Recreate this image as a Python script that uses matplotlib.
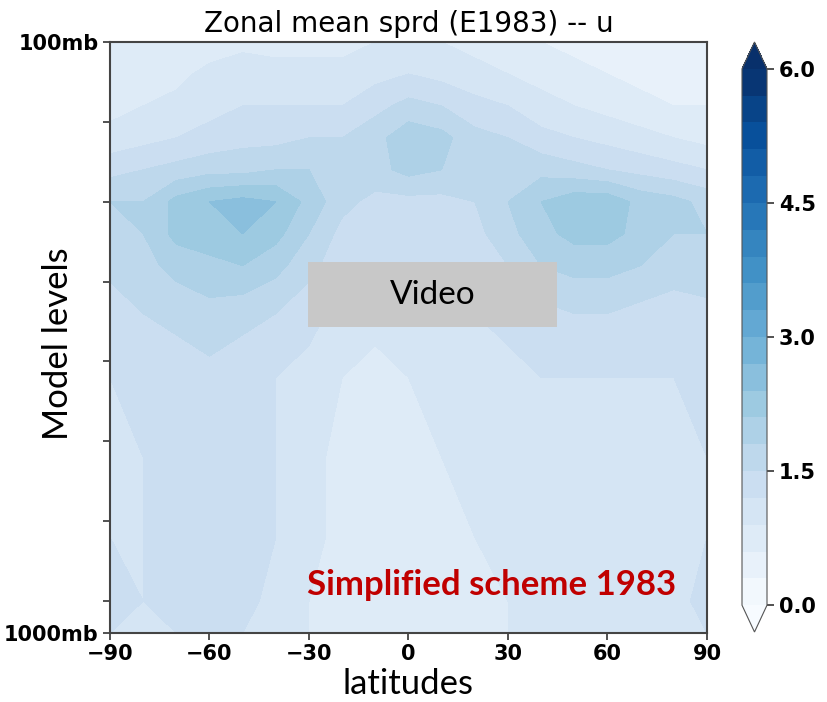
import numpy as np
import matplotlib
matplotlib.use("Agg")
import matplotlib.pyplot as plt
from matplotlib.patches import Rectangle

# latitudes and model level index (0 = 100mb at top, 74 = 1000mb at bottom)
lats = [-90, -80, -70, -60, -50, -40, -30, -20, -10, 0, 10, 20, 30, 40, 50, 60, 70, 80, 90]
levels = [0, 4, 8, 12, 16, 20, 24, 28, 34, 42, 52, 62, 70, 74]

# zonal mean spread of u (one row per level)
sprd_l00 = [0.6, 0.6, 0.6, 0.7, 0.8, 0.8, 0.8, 0.8, 0.9, 0.9, 0.9, 0.8, 0.7, 0.6, 0.5, 0.5, 0.4, 0.4, 0.4]
sprd_l04 = [0.7, 0.7, 0.8, 1.0, 1.1, 1.0, 1.0, 1.0, 1.1, 1.2, 1.1, 1.0, 0.9, 0.8, 0.7, 0.6, 0.5, 0.5, 0.5]
sprd_l08 = [0.8, 0.9, 1.0, 1.1, 1.2, 1.2, 1.2, 1.2, 1.4, 1.6, 1.5, 1.3, 1.2, 1.0, 0.9, 0.8, 0.7, 0.6, 0.6]
sprd_l12 = [1.0, 1.1, 1.2, 1.3, 1.4, 1.4, 1.5, 1.5, 1.7, 2.0, 1.9, 1.6, 1.5, 1.3, 1.2, 1.1, 1.0, 0.9, 0.8]
sprd_l16 = [1.4, 1.5, 1.6, 1.7, 1.7, 1.8, 1.8, 1.7, 1.7, 1.9, 1.8, 1.6, 1.7, 1.7, 1.6, 1.5, 1.4, 1.3, 1.2]
sprd_l20 = [1.8, 1.8, 2.2, 2.4, 2.5, 2.4, 2.0, 1.6, 1.4, 1.4, 1.4, 1.5, 1.8, 2.1, 2.3, 2.3, 2.0, 1.9, 1.7]
sprd_l24 = [1.7, 1.8, 2.2, 2.3, 2.4, 2.2, 1.8, 1.4, 1.3, 1.3, 1.3, 1.4, 1.7, 2.0, 2.2, 2.2, 2.0, 1.8, 1.8]
sprd_l28 = [1.6, 1.7, 1.9, 2.0, 2.1, 1.9, 1.6, 1.3, 1.2, 1.2, 1.2, 1.3, 1.5, 1.8, 1.9, 1.9, 1.8, 1.7, 1.7]
sprd_l34 = [1.3, 1.5, 1.6, 1.7, 1.6, 1.5, 1.3, 1.1, 1.0, 1.0, 1.1, 1.2, 1.3, 1.4, 1.5, 1.5, 1.4, 1.3, 1.4]
sprd_l42 = [1.2, 1.3, 1.3, 1.4, 1.3, 1.2, 1.1, 0.9, 0.8, 0.9, 1.0, 1.1, 1.1, 1.2, 1.2, 1.2, 1.2, 1.2, 1.3]
sprd_l52 = [1.2, 1.2, 1.3, 1.4, 1.3, 1.2, 1.0, 0.8, 0.7, 0.8, 0.9, 1.0, 1.0, 1.1, 1.1, 1.1, 1.1, 1.1, 1.2]
sprd_l62 = [1.2, 1.2, 1.3, 1.5, 1.3, 1.2, 1.0, 0.8, 0.7, 0.7, 0.8, 0.9, 1.0, 1.0, 1.1, 1.1, 1.0, 1.1, 1.2]
sprd_l70 = [1.3, 1.2, 1.3, 1.4, 1.3, 1.1, 0.9, 0.8, 0.7, 0.7, 0.8, 0.8, 0.9, 1.0, 1.0, 1.0, 1.0, 1.1, 1.3]
sprd_l74 = [1.2, 1.1, 1.2, 1.3, 1.2, 1.0, 0.9, 0.8, 0.7, 0.7, 0.8, 0.8, 0.9, 1.0, 1.0, 1.0, 1.0, 1.1, 1.2]

xticks = [-90, -60, -30, 0, 30, 60, 90]
cbar_ticks = [0.0, 1.5, 3.0, 4.5, 6.0]

sprd = np.array([sprd_l00, sprd_l04, sprd_l08, sprd_l12, sprd_l16, sprd_l20, sprd_l24,
                 sprd_l28, sprd_l34, sprd_l42, sprd_l52, sprd_l62, sprd_l70, sprd_l74])

fig = plt.figure(figsize=(8.27, 7.02), dpi=100)
ax = fig.add_axes([110 / 827, 1 - 633 / 702, 597 / 827, 591 / 702])

clevs = np.linspace(0, 6, 21)
cf = ax.contourf(lats, levels, sprd, levels=clevs, cmap='Blues', extend='both')

ax.set_xlim(-90, 90)
ax.set_ylim(74, 0)
ax.set_xticks(xticks)
ax.set_xticklabels([f"\u2212{abs(t)}" if t < 0 else str(t) for t in xticks],
                   fontsize=15, fontweight='bold')
ax.set_yticks([0, 10, 20, 30, 40, 50, 60, 70, 74])
ax.set_yticklabels(['100mb', '', '', '', '', '', '', '', '1000mb'],
                   fontsize=15, fontweight='bold')
ax.tick_params(axis='both', length=5, width=1.2, color='#333333', pad=3)
for s in ax.spines.values():
    s.set_color('#444444')
    s.set_linewidth(1.5)

ax.set_title('Zonal mean sprd (E1983) -- u', fontsize=20, pad=7)
ax.set_xlabel('latitudes', fontsize=25, family='Lato', labelpad=3)
ax.set_ylabel('Model levels', fontsize=25, family='Lato')
ax.yaxis.set_label_coords(-0.061, 0.49)

cax = fig.add_axes([742 / 827, 1 - 632 / 702, 25 / 827, 590 / 702])
cb = fig.colorbar(cf, cax=cax, ticks=cbar_ticks)
cb.ax.set_yticklabels([f"{t:.1f}" for t in cbar_ticks], fontsize=15, fontweight='bold')
cb.outline.set_edgecolor('#555555')
cb.ax.tick_params(length=5, width=1.2, color='#333333')

# overlays from the slide
fig.patches.append(Rectangle((308 / 827, 1 - 327 / 702), 249 / 827, 65 / 702,
                             transform=fig.transFigure, facecolor='#c8c8c8',
                             edgecolor='none', zorder=5))
fig.text(433 / 827, 1 - 295 / 702, 'Video', fontsize=24, family='Lato',
         ha='center', va='center', zorder=6)
fig.text(307 / 827, 1 - 595 / 702, 'Simplified scheme 1983', fontsize=25,
         family='Lato', fontweight='bold', color='#c00000', ha='left',
         va='baseline', zorder=6)

fig.savefig('out.png', dpi=100)
